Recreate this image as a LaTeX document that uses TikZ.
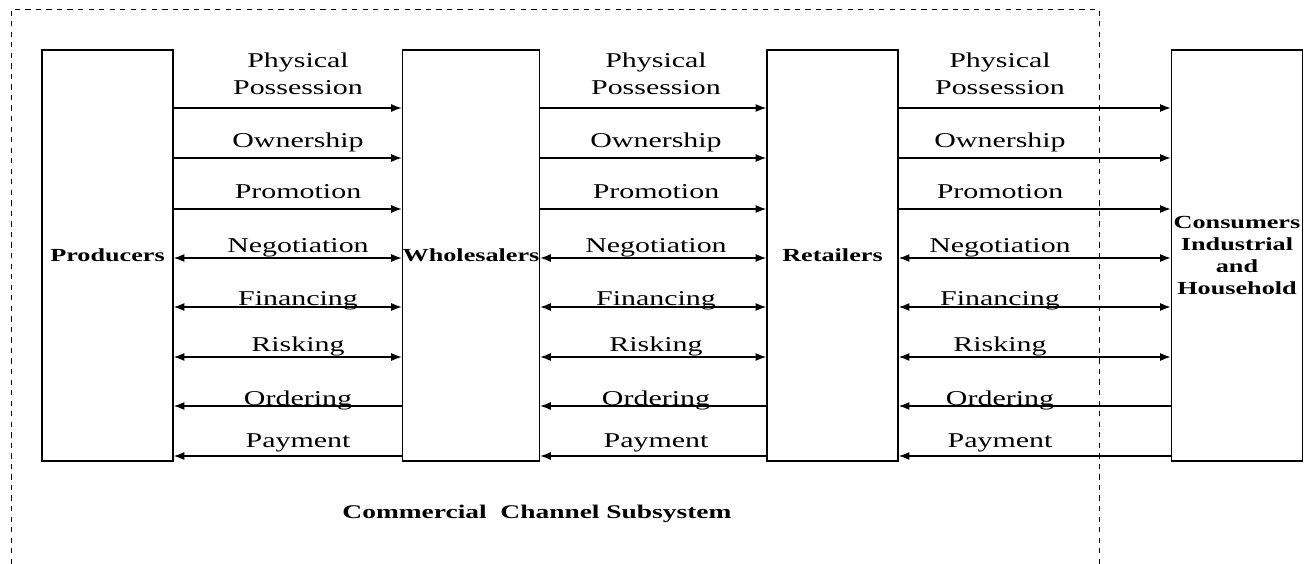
\documentclass[tikz,border=0pt]{standalone}
\usepackage{fontspec}
\setmainfont{Liberation Serif}
\usepackage{graphicx}
\usetikzlibrary{arrows.meta}
\newcommand{\stretchtxt}[1]{\scalebox{1.42}[1]{#1}}

\begin{document}
\begin{tikzpicture}
  [x=0.02cm,y=-0.02cm,>={Latex[length=6pt,width=4.5pt]},
   box/.style={draw,line width=1pt,minimum width=2.62cm,minimum height=8.22cm,inner sep=0pt,
     align=center,font=\bfseries\fontsize{10.5}{12.5}\selectfont},
   lbl/.style={anchor=base,inner sep=0pt,font=\fontsize{12}{14}\selectfont}]
  \useasboundingbox (0,0) rectangle (1312,564);
  \draw[dashed] (11,564) -- (11,9) -- (1099,9) -- (1099,564);

  \node[box] (prod) at (107.5,255.5) {\stretchtxt{Producers}};
  \node[box] (whol) at (471,255.5)   {\stretchtxt{Wholesalers}};
  \node[box] (reta) at (832.5,255.5) {\stretchtxt{Retailers}};
  \node[box] (cons) at (1237,255.5)  {\stretchtxt{Consumers}\\\stretchtxt{Industrial}\\\stretchtxt{and}\\\stretchtxt{Household}};

  \foreach \y/\dir in {108/->,158/->,209/->,258/<->,307/<->,357/<->,406/<-,456/<-}{
    \draw[semithick,\dir] (prod.east |- 0,\y) -- (whol.west |- 0,\y);
    \draw[semithick,\dir] (whol.east |- 0,\y) -- (reta.west |- 0,\y);
    \draw[semithick,\dir] (reta.east |- 0,\y) -- (cons.west |- 0,\y);
  }

  \foreach \b/\name in {68/Physical,95/Possession,148/Ownership,199/Promotion,253/Negotiation,
                        306/Financing,351/Risking,405/Ordering,447/Payment}
    \foreach \x in {298,656,1000}
      \node[lbl] (t\b-\x) at (\x,\b) {\stretchtxt{\name}};

  \node[font=\bfseries\fontsize{11}{13}\selectfont] (sub) at (537,514) {\stretchtxt{Commercial\ \ Channel Subsystem}};
\end{tikzpicture}
\end{document}
